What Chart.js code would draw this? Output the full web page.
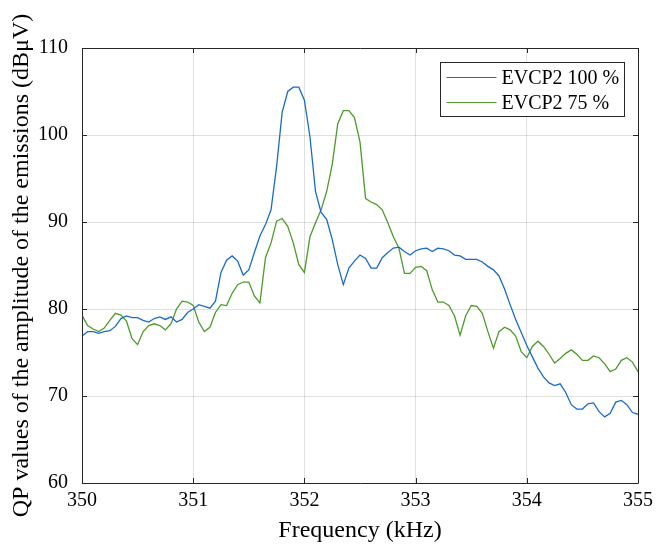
<!DOCTYPE html>
<html>
<head>
<meta charset="utf-8">
<script src="https://cdn.jsdelivr.net/npm/chart.js@4.4.1/dist/chart.umd.min.js"></script>
<style>
  html, body { margin: 0; padding: 0; background: #ffffff; }
  #wrap { width: 656px; height: 549px; }
</style>
</head>
<body>
<div id="wrap"><canvas id="c" width="656" height="549"></canvas></div>
<script>
// ---- data ----
const frequencyKHz = [
  350.00, 350.05, 350.10, 350.15, 350.20, 350.25, 350.30, 350.35, 350.40, 350.45,
  350.50, 350.55, 350.60, 350.65, 350.70, 350.75, 350.80, 350.85, 350.90, 350.95,
  351.00, 351.05, 351.10, 351.15, 351.20, 351.25, 351.30, 351.35, 351.40, 351.45,
  351.50, 351.55, 351.60, 351.65, 351.70, 351.75, 351.80, 351.85, 351.90, 351.95,
  352.00, 352.05, 352.10, 352.15, 352.20, 352.25, 352.30, 352.35, 352.40, 352.45,
  352.50, 352.55, 352.60, 352.65, 352.70, 352.75, 352.80, 352.85, 352.90, 352.95,
  353.00, 353.05, 353.10, 353.15, 353.20, 353.25, 353.30, 353.35, 353.40, 353.45,
  353.50, 353.55, 353.60, 353.65, 353.70, 353.75, 353.80, 353.85, 353.90, 353.95,
  354.00, 354.05, 354.10, 354.15, 354.20, 354.25, 354.30, 354.35, 354.40, 354.45,
  354.50, 354.55, 354.60, 354.65, 354.70, 354.75, 354.80, 354.85, 354.90, 354.95,
  355.00
];
const evcp2_100 = [
  76.9, 77.4, 77.4, 77.2, 77.4, 77.5, 78.0, 78.9, 79.2, 79.0,
  79.0, 78.7, 78.5, 78.9, 79.1, 78.8, 79.1, 78.5, 78.8, 79.6,
  80.0, 80.5, 80.3, 80.1, 80.9, 84.2, 85.6, 86.1, 85.5, 83.9,
  84.5, 86.5, 88.4, 89.7, 91.4, 96.4, 102.6, 105.0, 105.5, 105.5,
  104.0, 99.8, 93.5, 91.1, 90.3, 88.0, 85.1, 82.8, 84.7, 85.5,
  86.2, 85.8, 84.7, 84.7, 85.9, 86.5, 87.0, 87.1, 86.6, 86.2,
  86.7, 86.9, 87.0, 86.6, 87.0, 86.9, 86.7, 86.2, 86.1, 85.7,
  85.7, 85.7, 85.4, 84.9, 84.5, 83.8, 82.3, 80.5, 78.8, 77.3,
  75.8, 74.5, 73.2, 72.2, 71.5, 71.2, 71.4, 70.4, 69.0, 68.5,
  68.5, 69.1, 69.2, 68.2, 67.6, 68.0, 69.3, 69.5, 69.0, 68.1,
  67.9
];
const evcp2_75 = [
  79.3, 78.1, 77.7, 77.4, 77.8, 78.7, 79.5, 79.3, 78.6, 76.6,
  75.9, 77.4, 78.1, 78.3, 78.1, 77.6, 78.3, 80.0, 80.9, 80.8,
  80.4, 78.5, 77.4, 77.9, 79.6, 80.5, 80.4, 81.8, 82.8, 83.1,
  83.1, 81.5, 80.7, 85.9, 87.6, 90.1, 90.4, 89.5, 87.6, 85.1,
  84.2, 88.3, 89.9, 91.4, 93.5, 96.6, 101.3, 102.8, 102.8, 102.0,
  99.2, 92.7, 92.3, 92.0, 91.4, 89.9, 88.3, 87.0, 84.1, 84.1,
  84.8, 84.9, 84.4, 82.2, 80.8, 80.8, 80.4, 79.2, 77.0, 79.2,
  80.4, 80.3, 79.5, 77.4, 75.5, 77.4, 77.9, 77.6, 76.9, 75.1,
  74.4, 75.7, 76.3, 75.7, 74.8, 73.8, 74.3, 74.9, 75.3, 74.8,
  74.1, 74.1, 74.6, 74.4, 73.7, 72.8, 73.1, 74.1, 74.4, 73.9,
  72.8
];
const seriesLabels = ['EVCP2 100 %', 'EVCP2 75 %'];
const xTicks = [350, 351, 352, 353, 354, 355];
const yTicks = [60, 70, 80, 90, 100, 110];
const xTitle = 'Frequency (kHz)';
const yTitle = 'QP values of the amplitude of the emissions (dBμV)';

// ---- styles ----
const BLUE = '#1a6acb';
const GREEN = '#4e9a2c';
const AXIS = '#262626';
const GRID = 'rgba(38,38,38,0.15)';
const FONT = '"Liberation Serif", "Times New Roman", serif';

function pts(vals) { return frequencyKHz.map((f, i) => ({ x: f, y: vals[i] })); }

const boxPlugin = {
  id: 'boxTicks',
  afterDraw(chart) {
    const { ctx, chartArea: a, scales } = chart;
    ctx.save();
    ctx.strokeStyle = AXIS;
    ctx.lineWidth = 1;
    ctx.beginPath();
    ctx.rect(Math.round(a.left) + 0.5, Math.round(a.top) + 0.5,
             Math.round(a.right - a.left), Math.round(a.bottom - a.top));
    ctx.stroke();
    const L = 5;
    ctx.beginPath();
    xTicks.forEach(v => {
      const px = Math.round(scales.x.getPixelForValue(v)) + 0.5;
      ctx.moveTo(px, a.bottom); ctx.lineTo(px, a.bottom - L);
      ctx.moveTo(px, a.top); ctx.lineTo(px, a.top + L);
    });
    yTicks.forEach(v => {
      const py = Math.round(scales.y.getPixelForValue(v)) + 0.5;
      ctx.moveTo(a.left, py); ctx.lineTo(a.left + L, py);
      ctx.moveTo(a.right, py); ctx.lineTo(a.right - L, py);
    });
    ctx.stroke();

    // legend box (top-right, inside axes)
    const w = 184, h = 54;
    const x0 = Math.round(a.right - 14 - w) + 0.5;
    const y0 = Math.round(a.top + 14) + 0.5;
    ctx.fillStyle = '#ffffff';
    ctx.fillRect(x0, y0, w, h);
    ctx.strokeStyle = AXIS;
    ctx.strokeRect(x0, y0, w, h);
    ctx.font = '20px ' + FONT;
    ctx.textBaseline = 'middle';
    ctx.textAlign = 'left';
    chart.data.datasets.forEach((ds, i) => {
      const yy = y0 + 15 + i * 25;
      ctx.strokeStyle = ds.borderColor;
      ctx.lineWidth = 1.2;
      ctx.beginPath();
      ctx.moveTo(x0 + 6, yy); ctx.lineTo(x0 + 56, yy);
      ctx.stroke();
      ctx.fillStyle = '#000000';
      ctx.fillText(ds.label, x0 + 61, yy + 1);
    });
    ctx.restore();
  }
};

new Chart(document.getElementById('c'), {
  type: 'line',
  data: {
    datasets: [
      { label: seriesLabels[0], data: pts(evcp2_100), borderColor: BLUE, borderWidth: 1.3,
        pointRadius: 0, tension: 0, fill: false },
      { label: seriesLabels[1], data: pts(evcp2_75), borderColor: GREEN, borderWidth: 1.3,
        pointRadius: 0, tension: 0, fill: false }
    ]
  },
  options: {
    responsive: false,
    animation: false,
    devicePixelRatio: 1,
    layout: { padding: { top: 48, right: 18, left: 0, bottom: 0 } },
    plugins: { legend: { display: false }, tooltip: { enabled: false } },
    scales: {
      x: {
        type: 'linear', min: 350, max: 355,
        afterBuildTicks: s => { s.ticks = xTicks.map(v => ({ value: v })); },
        ticks: { color: '#000', font: { family: FONT, size: 20 }, padding: 6, maxRotation: 0 },
        grid: { color: GRID, drawTicks: false, lineWidth: 1 },
        border: { display: false },
        title: { display: true, text: xTitle, color: '#000',
                 font: { family: FONT, size: 24 }, padding: { top: 0, bottom: 4 } },
        afterFit: s => { s.height = 66; s.paddingRight = 0; s.paddingLeft = 0; }
      },
      y: {
        type: 'linear', min: 60, max: 110,
        afterBuildTicks: s => { s.ticks = yTicks.map(v => ({ value: v })); },
        ticks: { color: '#000', font: { family: FONT, size: 20 }, padding: 14 },
        grid: { color: GRID, drawTicks: false, lineWidth: 1 },
        border: { display: false },
        title: { display: true, text: yTitle, color: '#000',
                 font: { family: FONT, size: 24 }, padding: { top: 7, bottom: 0 } },
        afterFit: s => { s.width = 82; }
      }
    }
  },
  plugins: [boxPlugin]
});
</script>
</body>
</html>
